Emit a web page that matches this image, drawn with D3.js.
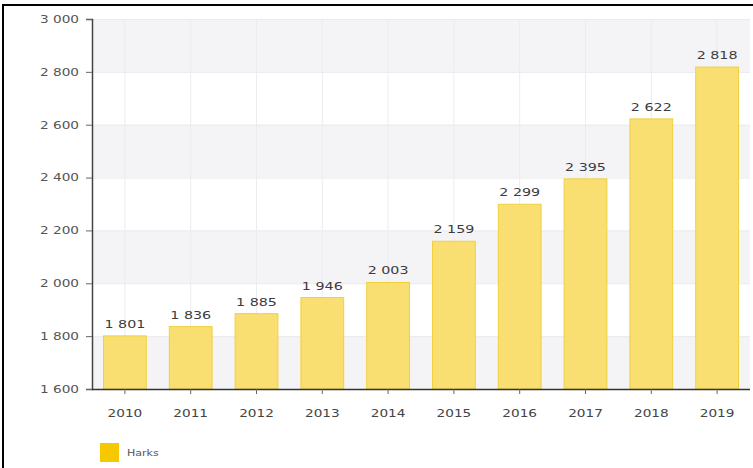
<!DOCTYPE html>
<html><head><meta charset="utf-8">
<script src="https://cdn.jsdelivr.net/npm/d3@7"></script>
<style>body{margin:0;background:#fff;} svg{display:block;}</style>
</head><body>
<svg id="c" width="753" height="468"></svg>
<script>
const years = ["2010","2011","2012","2013","2014","2015","2016","2017","2018","2019"];
const harks = [1801,1836,1885,1946,2003,2159,2299,2395,2622,2818];
const yTicks = [1600,1800,2000,2200,2400,2600,2800,3000];
const seriesName = "Harks";

(function(){
const svg = d3.select("#c");
const W = 753, H = 468;
const pLeft = 92, pRight = 750, pTop = 19, pBase = 389;
const SX = 1.3; // horizontal stretch of text seen in the reference
const x = d3.scaleBand().domain(years).range([pLeft, pRight]).paddingInner(0.35).paddingOuter(0.175);
const y = d3.scaleLinear().domain([1600,3000]).range([pBase, pTop]);
const loc = d3.formatLocale({decimal:",", thousands:"\u00a0", grouping:[3], currency:["",""]});
const fmt = loc.format(",d");
const font = "DejaVu Sans, Verdana, sans-serif";

// frame (left & top)
svg.append("line").attr("x1",3).attr("x2",3).attr("y1",4).attr("y2",H).attr("stroke","#000").attr("stroke-width",2);
svg.append("line").attr("x1",2).attr("x2",W).attr("y1",5).attr("y2",5).attr("stroke","#000").attr("stroke-width",2);

// alternating bands
const g = svg.append("g");
for (let i=0;i<yTicks.length-1;i++){
  if ((yTicks.length-2-i)%2===0)
    g.append("rect").attr("x",pLeft).attr("y",y(yTicks[i+1])).attr("width",pRight-pLeft)
     .attr("height",y(yTicks[i])-y(yTicks[i+1])).attr("fill","#f4f4f7");
}
g.selectAll(".hg").data(yTicks).enter().append("line")
 .attr("x1",pLeft).attr("x2",pRight).attr("y1",d=>y(d)+0.5).attr("y2",d=>y(d)+0.5).attr("stroke","#eaeaee");
g.selectAll(".vg").data(years).enter().append("line")
 .attr("x1",d=>x(d)+x.bandwidth()/2).attr("x2",d=>x(d)+x.bandwidth()/2).attr("y1",pTop).attr("y2",pBase).attr("stroke","#ececf0");

// bars
svg.append("g").selectAll("rect").data(years).enter().append("rect")
 .attr("x",d=>x(d)).attr("width",x.bandwidth())
 .attr("y",(d,i)=>y(harks[i])).attr("height",(d,i)=>pBase-y(harks[i]))
 .attr("fill","#f9df72").attr("stroke","#f0d03c").attr("stroke-width",1);

// value labels
svg.append("g").selectAll("text").data(years).enter().append("text")
 .attr("transform",(d,i)=>`translate(${x(d)+x.bandwidth()/2},${y(harks[i])-8}) scale(${SX},1)`)
 .attr("text-anchor","middle").attr("font-family",font).attr("font-size",11).attr("fill","#3c3c3c")
 .text((d,i)=>fmt(harks[i]));

// axes
const yAxis = d3.axisLeft(y).tickValues(yTicks).tickFormat(fmt).tickSize(6).tickPadding(4);
const ya = svg.append("g").attr("transform",`translate(${pLeft},0)`).call(yAxis);
ya.select(".domain").attr("stroke","#444").attr("stroke-width",1.5);
ya.selectAll(".tick line").attr("stroke","#666");
ya.selectAll("text").attr("font-family",font).attr("font-size",10.5).attr("fill","#555")
  .attr("x",-13/SX).attr("transform",`scale(${SX},1)`);

const xAxis = d3.axisBottom(x).tickSize(5).tickPadding(16);
const xa = svg.append("g").attr("transform",`translate(0,${pBase})`).call(xAxis);
xa.select(".domain").attr("stroke","#333").attr("stroke-width",1.5).attr("d",`M${pLeft},0.5H${pRight}`);
xa.selectAll(".tick line").attr("stroke","#666");
xa.selectAll("text").attr("font-family",font).attr("font-size",10.5).attr("fill","#444")
  .attr("transform",`scale(${SX},1)`);

// legend
svg.append("rect").attr("x",100).attr("y",443).attr("width",19).attr("height",19).attr("fill","#f6c800");
svg.append("text").attr("transform",`translate(127,456) scale(${SX},1)`).attr("font-family",font)
  .attr("font-size",8.5).attr("fill","#555").text(seriesName);
})();
</script>
</body></html>
